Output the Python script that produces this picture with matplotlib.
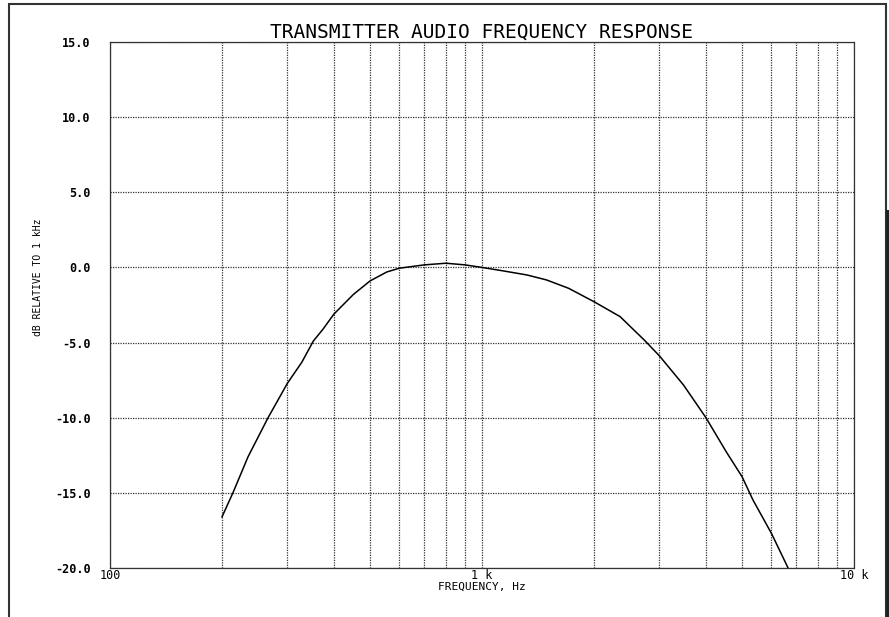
import numpy as np
import matplotlib
matplotlib.use('Agg')
import matplotlib.pyplot as plt
from matplotlib.patches import Rectangle
from matplotlib.ticker import FixedLocator, NullFormatter

# Valores (Hz, dB relativo a 1 kHz)
freq = [200, 214, 235, 266, 300, 328, 352, 374, 400, 451, 500, 555, 600,
        700, 800, 900, 1000, 1140, 1320, 1490, 1710, 2000, 2350, 2740, 3000,
        3480, 4000, 4530, 5000, 5350, 6000, 6650]
db = [-16.6, -15.0, -12.6, -10.0, -7.7, -6.3, -4.9, -4.1, -3.1, -1.8, -0.9,
      -0.3, -0.05, 0.17, 0.28, 0.17, 0.0, -0.23, -0.5, -0.83, -1.39, -2.28,
      -3.27, -4.87, -5.89, -7.82, -10.0, -12.25, -13.92, -15.47, -17.7, -20.0]

y_ticks = [15, 10, 5, 0, -5, -10, -15, -20]
y_labels = ['15.0', '10.0', '5.0', '0.0', '-5.0', '-10.0', '-15.0', '-20.0']
x_major = [100, 1000, 10000]
x_labels = ['100', '1 k', '10 k']
x_minor = [f * d for d in (100, 1000) for f in range(2, 10)]

mono = 'DejaVu Sans Mono'
W, H = 889, 617

fig = plt.figure(figsize=(W / 100, H / 100), dpi=100)
ax = fig.add_axes([110 / W, 1 - 568 / H, (854 - 110) / W, (568 - 42) / H])

ax.plot(freq, db, color='black', lw=1.1)

ax.set_xscale('log')
ax.set_xlim(100, 10000)
ax.set_ylim(-20, 15)

ax.xaxis.set_major_locator(FixedLocator(x_major))
ax.set_xticklabels(x_labels, fontfamily=mono, fontsize=8.5)
ax.xaxis.set_minor_locator(FixedLocator(x_minor))
ax.xaxis.set_minor_formatter(NullFormatter())
ax.set_yticks(y_ticks)
ax.set_yticklabels(y_labels, fontfamily=mono, fontsize=8.5, fontweight='bold')

ax.tick_params(axis='x', which='both', length=0, pad=1)
ax.tick_params(axis='y', which='both', length=0, pad=14)

# Grade pontilhada (inclusive as bordas)
dot = (0, (1, 1))
ax.grid(True, which='both', axis='x', linestyle=dot, color='#333333', lw=0.9)
ax.grid(True, which='major', axis='y', linestyle=dot, color='#333333', lw=0.9)
for s in ax.spines.values():
    s.set_linestyle(dot)
    s.set_color('#333333')
    s.set_linewidth(0.9)

ax.set_title('TRANSMITTER AUDIO FREQUENCY RESPONSE', fontfamily=mono,
             fontsize=14, pad=3)

fig.text(482 / W, 1 - 587 / H, 'FREQUENCY, Hz', fontfamily=mono, fontsize=8,
         ha='center', va='center')
fig.text(38 / W, 1 - 277 / H, 'dB RELATIVE TO 1 kHz', fontfamily=mono,
         fontsize=7, rotation=90, ha='center', va='center')

# Moldura externa
fig.add_artist(Rectangle((9 / W, -0.05), (886 - 9) / W, 1.05 - 4 / H,
                         transform=fig.transFigure, fill=False,
                         edgecolor='#333333', lw=1.5))
fig.add_artist(Rectangle((886 / W, 0), 3 / W, 1 - 210 / H,
                         transform=fig.transFigure, color='#222222', lw=0))

fig.savefig('out.png', dpi=100)
